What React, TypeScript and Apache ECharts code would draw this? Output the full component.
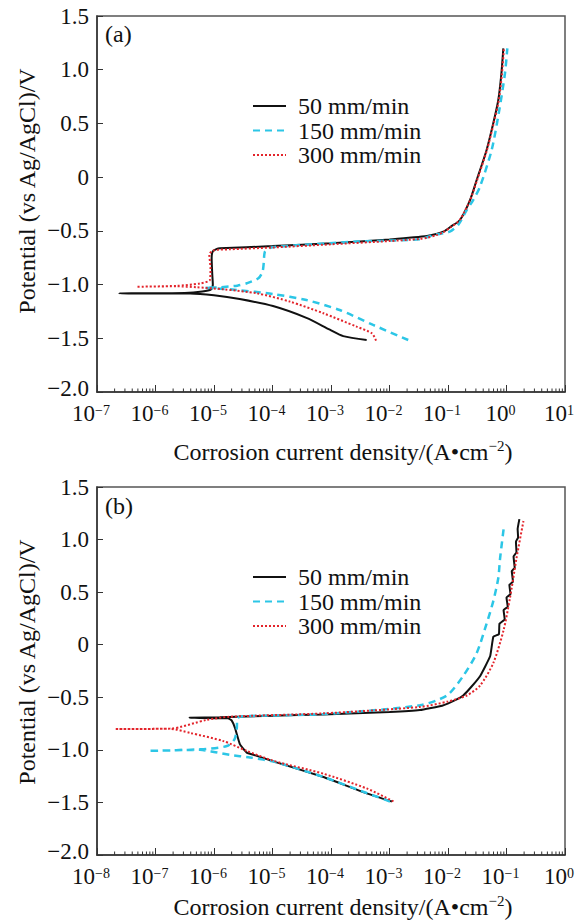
import React, { useEffect, useRef } from "react";
import * as echarts from "echarts";

const FONT = "Liberation Serif";

const seriesNames = ["50 mm/min", "150 mm/min", "300 mm/min"];

// Panel (a): [current density A/cm2, potential V]
const a50: [number, number][] = [
  [4.07e-3, -1.515], [1.62e-3, -1.48], [9.55e-4, -1.42], [3.8e-4, -1.31], [1.02e-4, -1.2],
  [2.75e-5, -1.135], [1.0e-5, -1.1], [3.89e-6, -1.083], [2.4e-7, -1.082], [3.16e-6, -1.078],
  [6.31e-6, -1.065], [8.91e-6, -1.045], [9.55e-6, -1.0], [9.33e-6, -0.9], [9.12e-6, -0.75],
  [9.55e-6, -0.69], [1.12e-5, -0.668], [1.26e-5, -0.663], [1.0e-4, -0.642], [1.0e-3, -0.615],
  [1.0e-2, -0.58], [3.31e-2, -0.554], [4.37e-2, -0.548], [6.31e-2, -0.53], [8.32e-2, -0.508],
  [0.112, -0.46], [0.16, -0.399], [0.238, -0.213], [0.309, -0.027], [0.457, 0.253],
  [0.594, 0.501], [0.724, 0.718], [0.813, 0.95], [0.883, 1.199],
];
const a150: [number, number][] = [
  [2.09e-2, -1.516], [5.25e-3, -1.376], [1.41e-3, -1.237], [3.8e-4, -1.144], [1.02e-4, -1.088],
  [2.45e-5, -1.05], [1.12e-5, -1.035], [7.08e-6, -1.03], [1.26e-5, -1.025], [2.51e-5, -1.01],
  [3.63e-5, -0.988], [5.75e-5, -0.942], [6.76e-5, -0.88], [7.08e-5, -0.8], [7.41e-5, -0.694],
  [8.91e-5, -0.66], [1.17e-4, -0.648], [2.75e-3, -0.6], [3.31e-2, -0.578], [5.62e-2, -0.539],
  [0.107, -0.508], [0.151, -0.44], [0.209, -0.306], [0.269, -0.213], [0.352, -0.089],
  [0.558, 0.253], [0.753, 0.625], [0.942, 0.967], [1.033, 1.199],
];
const a300: [number, number][] = [
  [5.89e-3, -1.522], [5.01e-3, -1.454], [2.75e-3, -1.392], [7.41e-4, -1.267], [2.0e-4, -1.159],
  [5.37e-5, -1.081], [1.45e-5, -1.044], [5.01e-6, -1.025], [2.29e-6, -1.016], [4.79e-7, -1.02],
  [2.29e-6, -1.012], [5.75e-6, -0.99], [8.51e-6, -0.957], [8.71e-6, -0.85], [8.32e-6, -0.72],
  [9.77e-6, -0.682], [1.86e-5, -0.672], [1.0e-4, -0.655], [1.0e-3, -0.625], [1.0e-2, -0.595],
  [3.31e-2, -0.575], [4.37e-2, -0.564], [6.31e-2, -0.54], [8.32e-2, -0.512], [0.112, -0.465],
  [0.158, -0.4], [0.24, -0.21], [0.313, -0.03], [0.462, 0.25], [0.603, 0.5], [0.741, 0.72],
  [0.832, 0.95], [0.902, 1.19],
];

// Panel (b)
const b50: [number, number][] = [
  [1.1e-3, -1.491], [4.07e-4, -1.414], [7.41e-5, -1.258], [1.17e-5, -1.119], [5.37e-6, -1.057],
  [3.63e-6, -1.026], [2.78e-6, -0.948], [2.29e-6, -0.793], [2.0e-6, -0.72], [1.74e-6, -0.7],
  [3.8e-7, -0.695], [1.26e-6, -0.69], [1.0e-5, -0.675], [7.41e-5, -0.663], [1.0e-3, -0.64],
  [3.31e-3, -0.622], [7.94e-3, -0.58], [1.41e-2, -0.52], [1.82e-2, -0.483], [2.51e-2, -0.4],
  [3.55e-2, -0.297], [5.25e-2, -0.11], [5.96e-2, 0.076], [7.41e-2, 0.1], [7.59e-2, 0.2],
  [9.33e-2, 0.24], [8.91e-2, 0.33], [0.105, 0.36], [0.1, 0.45], [0.117, 0.48], [0.112, 0.57],
  [0.129, 0.6], [0.123, 0.7], [0.138, 0.73], [0.132, 0.84], [0.148, 0.88], [0.145, 0.98],
  [0.158, 1.02], [0.155, 1.1], [0.166, 1.195],
];
const b150: [number, number][] = [
  [1.02e-3, -1.491], [4.07e-4, -1.41], [7.41e-5, -1.258], [1.17e-5, -1.119], [4.12e-6, -1.072],
  [1.86e-6, -1.048], [1.0e-6, -1.02], [5.75e-7, -1.0], [7.59e-8, -1.01], [5.75e-7, -0.995],
  [1.66e-6, -0.964], [2.24e-6, -0.9], [2.45e-6, -0.8], [2.51e-6, -0.7], [3.16e-6, -0.68],
  [7.41e-5, -0.66], [3.31e-3, -0.576], [9.55e-3, -0.483], [1.82e-2, -0.297], [3.09e-2, -0.08],
  [4.57e-2, 0.2], [5.96e-2, 0.417], [7.24e-2, 0.634], [7.76e-2, 0.82], [9.06e-2, 1.13],
];
const b300: [number, number][] = [
  [1.17e-3, -1.491], [4.07e-4, -1.367], [7.41e-5, -1.227], [1.02e-5, -1.103], [3.63e-6, -1.01],
  [1.45e-6, -0.917], [3.89e-7, -0.839], [1.78e-7, -0.8], [2.04e-8, -0.802], [1.78e-7, -0.798],
  [7.5e-7, -0.715], [1.86e-6, -0.685], [7.41e-5, -0.653], [3.31e-3, -0.592], [1.0e-2, -0.54],
  [2.09e-2, -0.483], [3.52e-2, -0.39], [5.96e-2, -0.173], [8.91e-2, 0.138], [0.115, 0.448],
  [0.148, 0.82], [0.195, 1.177],
];

// axis tick tables
const minorMultipliers = [2, 3, 4, 5, 6, 7, 8, 9];
const decadesA = [-7, -6, -5, -4, -3, -2, -1, 0];
const decadesB = [-8, -7, -6, -5, -4, -3, -2, -1];
const yMin = -2.0;
const yMax = 1.5;
const yStep = 0.5;

const minorTicks = (decades: number[]) =>
  decades.flatMap((e) => minorMultipliers.map((m) => [m * Math.pow(10, e), yMin]));

const MINUS = "\u2212";

const xLabel = (v: number) => {
  const e = Math.round(Math.log10(v));
  const s = e < 0 ? MINUS + String(-e) : String(e);
  return `{b|10}{s|${s}}`;
};
const yLabel = (v: number) => {
  if (Math.abs(v) < 1e-9) return "0";
  const t = v.toFixed(1).replace("-", MINUS);
  return Math.abs(v - yMin) < 1e-9 ? `{lo|${t}}` : t;
};

const LINE_STYLES = [
  { color: "#111111", width: 2, type: "solid" as const },
  { color: "#2CC6E6", width: 2.5, type: [7, 5] as any },
  { color: "#E3242B", width: 2, type: [2, 2] as any },
];

export default function App() {
  const ref = useRef<HTMLDivElement>(null);
  useEffect(() => {
    if (!ref.current) return;
    const chart = echarts.init(ref.current, undefined, { renderer: "svg" });

    const grids = [
      { left: 97, top: 16, width: 468, height: 376 },
      { left: 97, top: 487, width: 468, height: 376 },
    ];
    const xRanges = [
      [1e-7, 10],
      [1e-8, 1],
    ];
    const nameGaps = [46, 38];

    const xAxes = xRanges.map((r, i) => ({
      gridIndex: i,
      type: "log" as const,
      logBase: 10,
      min: r[0],
      max: r[1],
      splitNumber: 8,
      axisLine: { show: true, onZero: false, lineStyle: { color: "#333", width: 1.5 } },
      axisTick: { show: true, inside: true, length: 7, lineStyle: { color: "#333", width: 1 } },
      splitLine: { show: false },
      axisLabel: {
        formatter: xLabel,
        margin: 11,
        padding: [0, 12, 0, 0],
        color: "#111",
        rich: {
          b: { fontFamily: FONT, fontSize: 23, lineHeight: 22, verticalAlign: "bottom", color: "#111" },
          s: { fontFamily: FONT, fontSize: 14, lineHeight: 10, verticalAlign: "top", color: "#111" },
        },
      },
      name: `{t|Corrosion current density/(A\u2022cm}{s|${MINUS}2}{t|)}`,
      nameLocation: "middle" as const,
      nameGap: nameGaps[i],
      nameTextStyle: {
        padding: [0, 0, 0, 24],
        rich: {
          t: { fontFamily: FONT, fontSize: 24, lineHeight: 26, verticalAlign: "bottom", color: "#111" },
          s: { fontFamily: FONT, fontSize: 15, lineHeight: 12, verticalAlign: "top", color: "#111" },
        },
      },
    }));

    const yAxes = [0, 1].map((i) => ({
      gridIndex: i,
      type: "value" as const,
      min: yMin,
      max: yMax,
      interval: yStep,
      axisLine: { show: true, onZero: false, lineStyle: { color: "#333", width: 1.5 } },
      axisTick: { show: true, inside: true, length: 6, lineStyle: { color: "#333", width: 1 } },
      splitLine: { show: false },
      axisLabel: {
        formatter: yLabel,
        margin: 8,
        fontFamily: FONT,
        fontSize: 23,
        lineHeight: 14,
        color: "#111",
        rich: {
          lo: { fontFamily: FONT, fontSize: 23, lineHeight: 14, padding: [0, 0, 8, 0], color: "#111" },
        },
      },
    }));

    const panelData = [
      [a50, a150, a300],
      [b50, b150, b300],
    ];

    const lineSeries: any[] = [];
    panelData.forEach((sets, gi) => {
      sets.forEach((d, si) => {
        lineSeries.push({
          type: "line",
          name: seriesNames[si],
          xAxisIndex: gi,
          yAxisIndex: gi,
          data: d,
          showSymbol: false,
          symbol: "none",
          smooth: gi === 1 && si === 0 ? 0.1 : 0.25,
          lineStyle: LINE_STYLES[si],
          itemStyle: { color: LINE_STYLES[si].color },
          emphasis: { disabled: true },
        });
      });
    });

    const tickSeries = [decadesA, decadesB].map((dec, gi) => ({
      type: "custom",
      xAxisIndex: gi,
      yAxisIndex: gi,
      silent: true,
      data: minorTicks(dec),
      renderItem: (_p: any, api: any) => {
        const pt = api.coord([api.value(0), api.value(1)]);
        return {
          type: "line",
          shape: { x1: pt[0], y1: pt[1], x2: pt[0], y2: pt[1] - 3.5 },
          style: { stroke: "#333", lineWidth: 1 },
        };
      },
    }));

    const legendBase = {
      orient: "vertical" as const,
      left: 252,
      padding: 0,
      itemWidth: 33,
      itemHeight: 14,
      itemGap: 0.5,
      data: seriesNames,
      selectedMode: false,
      itemStyle: { opacity: 0 },
      textStyle: {
        fontFamily: FONT,
        fontSize: 24,
        lineHeight: 22,
        color: "#111",
        padding: [0, 0, 0, 7],
      },
    };

    const txt = (t: string, center: boolean) => ({
      text: t,
      fontFamily: FONT,
      fontSize: 24,
      fill: "#111",
      ...(center
        ? { align: "center", verticalAlign: "middle", textAlign: "center", textVerticalAlign: "middle" }
        : {}),
    });

    chart.setOption({
      animation: false,
      backgroundColor: "#ffffff",
      grid: grids.map((g) => ({ ...g, show: true, borderColor: "#555", borderWidth: 1.5, backgroundColor: "transparent" })),
      xAxis: xAxes,
      yAxis: yAxes,
      legend: [
        { ...legendBase, top: 94 },
        { ...legendBase, top: 565 },
      ],
      series: [...lineSeries, ...tickSeries],
      graphic: [
        { type: "text", left: 105, top: 22, style: txt("(a)", false) },
        { type: "text", left: 105, top: 494, style: txt("(b)", false) },
        { type: "text", x: 27, y: 191, rotation: Math.PI / 2, style: txt("Potential (vs Ag/AgCl)/V", true) },
        { type: "text", x: 27, y: 662, rotation: Math.PI / 2, style: txt("Potential (vs Ag/AgCl)/V", true) },
      ],
    });
    return () => chart.dispose();
  }, []);
  return (
    <div
      ref={ref}
      style={{ position: "absolute", left: 0, top: 0, width: 586, height: 920, background: "#fff" }}
    />
  );
}
